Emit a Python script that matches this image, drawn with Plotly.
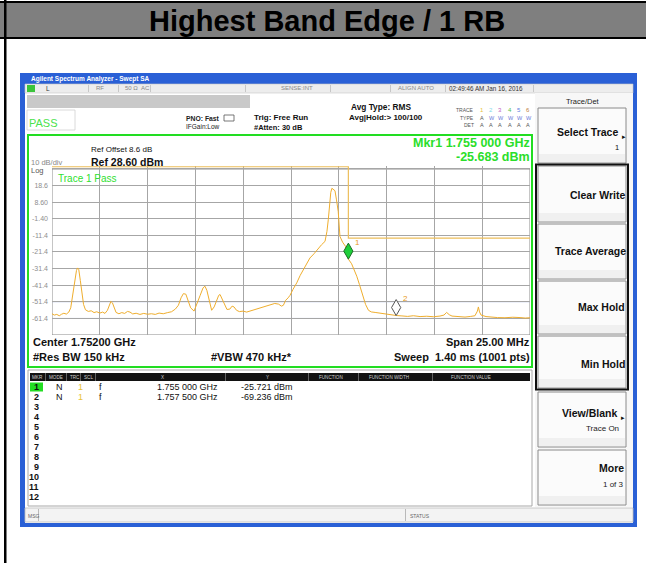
import numpy as np
import plotly.graph_objects as go

# ---------------- data ----------------
freq_mhz = [
    1739.50, 1739.62, 1739.75, 1739.88, 1740.00, 1740.12, 1740.25, 1740.38, 1740.48, 1740.58,
    1740.68, 1740.78, 1740.84, 1740.90, 1740.98, 1741.06, 1741.15, 1741.25, 1741.40, 1741.55,
    1741.70, 1741.84, 1742.00, 1742.15, 1742.27, 1742.40, 1742.50, 1742.58, 1742.66, 1742.75,
    1742.85, 1743.00, 1743.15, 1743.30, 1743.45, 1743.58, 1743.72, 1743.90, 1744.10, 1744.30,
    1744.50, 1744.70, 1744.90, 1745.10, 1745.32, 1745.55, 1745.75, 1745.95, 1746.11, 1746.25,
    1746.37, 1746.50, 1746.62, 1746.75, 1746.93, 1747.10, 1747.25, 1747.40, 1747.50, 1747.60,
    1747.72, 1747.85, 1747.98, 1748.10, 1748.22, 1748.29, 1748.40, 1748.50, 1748.65, 1748.80,
    1748.92, 1749.02, 1749.15, 1749.30, 1749.50, 1749.68, 1749.90, 1750.10, 1750.30, 1750.50,
    1750.73, 1750.95, 1751.15, 1751.35, 1751.50, 1751.60, 1751.72, 1751.85, 1751.95, 1752.10,
    1752.30, 1752.48, 1752.64, 1752.82, 1752.99, 1753.20, 1753.43, 1753.60, 1753.78, 1753.88,
    1753.95, 1754.02, 1754.08, 1754.14, 1754.22, 1754.30, 1754.38, 1754.47, 1754.56, 1754.70,
    1754.85, 1755.00, 1755.17, 1755.30, 1755.44, 1755.58, 1755.70, 1755.80, 1755.90, 1756.05,
    1756.20, 1756.40, 1756.66, 1756.90, 1757.15, 1757.35, 1757.53, 1757.80, 1758.10, 1758.40,
    1758.75, 1759.10, 1759.45, 1759.79, 1760.00, 1760.14, 1760.28, 1760.42, 1760.70, 1761.10,
    1761.40, 1761.62, 1761.75, 1761.80, 1761.86, 1761.94, 1762.20, 1762.41, 1762.80, 1763.19,
    1763.60, 1763.98, 1764.25, 1764.50,
]
level_dbm = [
    -58.6, -59.4, -59.0, -59.8, -58.9, -58.3, -58.8, -57.6, -55.0, -48.0,
    -39.0, -32.5, -31.0, -32.0, -38.5, -46.5, -53.0, -56.2, -57.2, -56.8,
    -57.9, -57.4, -58.2, -57.6, -58.4, -56.5, -53.5, -51.2, -52.0, -55.5,
    -57.8, -58.6, -57.9, -58.4, -57.2, -57.6, -58.7, -58.3, -59.0, -58.4,
    -58.9, -58.6, -59.0, -58.2, -58.6, -57.9, -57.4, -55.8, -53.5, -49.0,
    -46.5, -46.8, -50.5, -55.0, -57.0, -52.5, -47.5, -43.0, -42.0, -44.5,
    -50.0, -56.5, -54.5, -51.0, -47.5, -47.0, -49.5, -52.5, -56.0, -55.8,
    -54.0, -54.5, -56.5, -57.3, -57.0, -57.6, -56.8, -56.2, -55.6, -55.0,
    -54.0, -53.2, -52.4, -52.8, -54.0, -53.5, -50.5, -49.0, -47.5, -44.0,
    -40.0, -35.5, -32.0, -28.5, -25.0, -22.5, -19.0, -17.0, -15.0, -9.0,
    -2.0, 8.0, 14.5, 17.0, 16.0, 15.5, 10.0, 3.0, -12.0, -15.5,
    -18.0, -25.7, -28.5, -32.0, -36.0, -41.0, -46.0, -50.0, -53.0, -56.5,
    -57.5, -57.8, -58.3, -58.9, -59.2, -59.6, -59.7, -59.9, -60.2, -59.8,
    -60.3, -60.1, -60.4, -60.0, -59.4, -57.8, -59.2, -60.0, -60.4, -60.6,
    -60.2, -59.8, -57.0, -54.5, -57.5, -59.4, -60.3, -60.6, -60.9, -61.0,
    -60.7, -60.9, -61.2, -61.0,
]
limit_freq = [1739.5, 1755.0, 1755.0, 1764.5]
limit_dbm = [30.0, 30.0, -13.0, -13.0]

mkr_names = ["1", "2"]
mkr_freq = [1755.0, 1757.5]
mkr_x_text = ["1.755 000 GHz", "1.757 500 GHz"]
mkr_y_text = ["-25.721 dBm", "-69.236 dBm"]

ref_level = 28.6
db_per_div = 10
center_mhz = 1752.0
span_mhz = 25.0
ytick_vals = [28.6, 18.6, 8.6, -1.4, -11.4, -21.4, -31.4, -41.4, -51.4, -61.4, -71.4]
ytick_text = ["", "18.6", "8.60", "-1.40", "-11.4", "-21.4", "-31.4", "-41.4", "-51.4", "-61.4", ""]
display_lines_dbm = [-51.4, -61.4]

# ---------------- layout helpers ----------------
W, H = 646, 563
FONT = "Liberation Sans, Arial, sans-serif"
shapes, annots = [], []


def box(x0, y0, x1, y1, fill=None, line=None, lw=1, layer="below"):
    shapes.append(dict(type="rect", xref="paper", yref="paper",
                       x0=x0 / W, x1=x1 / W, y0=1 - y1 / H, y1=1 - y0 / H,
                       fillcolor=fill or "rgba(0,0,0,0)",
                       line=dict(color=line or "rgba(0,0,0,0)", width=lw if line else 0),
                       layer=layer))


def txt(x, y, s, size=8, color="#000", bold=False, anchor="left"):
    annots.append(dict(xref="paper", yref="paper", x=x / W, y=1 - y / H,
                       text=("<b>%s</b>" % s) if bold else s, showarrow=False,
                       xanchor=anchor, yanchor="middle", borderpad=0,
                       font=dict(size=size, color=color, family=FONT)))


# page header
box(0, 2, W, 38, "#7F7F7F")
box(0, 1, W, 3, "#000")
box(0, 37, W, 39, "#000")
box(4, 0, 6.5, H, "#000")
txt(327, 20.5, "Highest Band Edge / 1 RB", 29, "#000", True, "center")

# screenshot frame
box(20, 73, 637, 527, "#2A60D6")
box(25, 84, 633, 523, "#FFFFFF")
txt(30, 79, "Agilent Spectrum Analyzer - Swept SA", 6.5, "#FFFFFF", True)
# status row
box(25, 84, 633, 93, "#EDEDED", "#C8C8C8", 0.6)
box(27, 85, 35, 92, "#3BC43B")
for sx in [88, 118, 150, 245, 330, 390, 445, 533]:
    box(sx, 85, sx + 0.8, 92, "#BDBDBD")
txt(45, 88.5, "L", 6.5, "#333")
txt(95, 88.5, "RF", 6, "#888")
txt(124, 88.5, "50 Ω", 6, "#888")
txt(140, 88.5, "AC", 6, "#888")
txt(280, 88.5, "SENSE:INT", 6, "#888")
txt(397, 88.5, "ALIGN AUTO", 6, "#888")
txt(448, 88.5, "02:49:46 AM Jan 16, 2016", 6.3, "#333")
# settings area
box(27, 95, 250, 108, "#C9C9C9")
box(27, 110, 75, 130, "#FFFFFF", "#D0D0D0", 0.8)
txt(28, 123, "PASS", 11, "#4BE24B")
txt(221, 118, "PNO: Fast", 6.8, "#222", True, "right")
box(224, 115, 234, 121, None, "#555", 0.8)
txt(221, 127, "IFGain:Low", 6.5, "#222", False, "right")
txt(253, 117, "Trig: Free Run", 8, "#111", True)
txt(253, 127.5, "#Atten: 30 dB", 7.5, "#111", True)
txt(350, 107, "Avg Type: RMS", 8.3, "#111", True)
txt(348, 117, "Avg|Hold:> 100/100", 8, "#111", True)
txt(475, 110.5, "TRACE", 5, "#555", False, "right")
txt(475, 118, "TYPE", 5, "#555", False, "right")
txt(475, 125.5, "DET", 5, "#555", False, "right")
trace_cols = ["#E8C23A", "#7FD8E8", "#C060C0", "#50C050", "#6080E0", "#C08040"]
for i, c in enumerate(trace_cols):
    txt(479 + i * 9.2, 110.5, str(i + 1), 6, c)
    txt(479 + i * 9.2, 118, "A" if i == 0 else "W", 5.5, "#6A7ADA" if i else "#555")
    txt(479 + i * 9.2, 125.5, "A", 5.5, "#555")

# green measurement box
box(28, 135, 532, 367, None, "#22DD22", 2)
txt(90, 149, "Ref Offset 8.6 dB", 8, "#111")
txt(90, 162, "Ref 28.60 dBm", 10.5, "#111", True)
txt(30, 162, "10 dB/div", 7.5, "#8A8A8A")
txt(30, 170.5, "Log", 7.5, "#555")
txt(531, 143, "Mkr1 1.755 000 GHz", 12.5, "#2ADE2A", True, "right")
txt(531, 157.5, "-25.683 dBm", 12.5, "#2ADE2A", True, "right")
txt(57, 178, "Trace 1 Pass", 10, "#30E030")
txt(32, 342, "Center 1.75200 GHz", 11, "#111", True)
txt(531, 342, "Span 25.00 MHz", 11, "#111", True, "right")
txt(32, 357, "#Res BW 150 kHz", 11, "#111", True)
txt(210, 357, "#VBW 470 kHz*", 11, "#111", True)
txt(531, 357, "Sweep  1.40 ms (1001 pts)", 11, "#111", True, "right")

# marker table
box(28, 370, 532, 506, "#FFFFFF", "#A8A8A8", 1)
box(30, 373, 530, 381, "#121212")
for sx in [45, 66, 80, 95, 225, 308, 358, 432]:
    box(sx, 373, sx + 0.8, 381, "#777")
hdr = [(31, "MKR"), (48, "MODE"), (69, "TRC"), (83, "SCL"), (160, "X"), (265, "Y"),
       (318, "FUNCTION"), (368, "FUNCTION WIDTH"), (450, "FUNCTION VALUE")]
for hx, ht in hdr:
    txt(hx, 377, ht, 4.6, "#CFCFCF")
row_y0, row_dy = 387, 10.0
for r in range(12):
    ry = row_y0 + r * row_dy
    if r == 0:
        box(30, ry - 4.5, 43, ry + 4.5, "#22DD22")
    txt(40, ry, str(r + 1), 9, "#111", True, "right")
    if r < len(mkr_names):
        txt(55, ry, "N", 9, "#111")
        txt(77, ry, "1", 9, "#E8C23A")
        txt(98, ry, "f", 9, "#111")
        txt(219, ry, mkr_x_text[r], 9, "#111", False, "right")
        txt(294, ry, mkr_y_text[r], 9, "#111", False, "right")

# message bar
box(25, 508, 633, 522, "#F3F3F3", "#BDBDBD", 0.8)
box(38, 509, 38.8, 521, "#AAA")
box(405, 509, 405.8, 521, "#AAA")
txt(27, 515.5, "MSG", 5, "#666")
txt(409, 515.5, "STATUS", 5, "#666")

# soft-key panel
box(535, 93, 633, 507, "#F7F7F7")
txt(583, 102, "Trace/Det", 7.5, "#222", False, "center")
btns = [(108, 163), (166, 222), (224, 279), (281, 334), (336, 388), (392, 447), (450, 505)]
for (b0, b1) in btns:
    box(538, b0, 626, b1, "#FBFBFB", "#8A8A8A", 1)
    box(539, b1 - 9, 625, b1 - 1, "#F0F0F0")
box(536, 164.5, 628, 389.5, None, "#111", 2)
txt(619, 132, "Select Trace", 10.5, "#111", True, "right")
txt(621, 136, "▸", 7, "#111")
txt(620, 147, "1", 7.5, "#111", False, "right")
txt(626, 195, "Clear Write", 10.5, "#111", True, "right")
txt(627, 251, "Trace Average", 10.5, "#111", True, "right")
txt(626, 307, "Max Hold", 10.5, "#111", True, "right")
txt(626, 364, "Min Hold", 10.5, "#111", True, "right")
txt(618, 413, "View/Blank", 10.5, "#111", True, "right")
txt(620, 417, "▸", 7, "#111")
txt(620, 428, "Trace On", 8, "#222", False, "right")
txt(625, 468, "More", 10.5, "#111", True, "right")
txt(625, 484, "1 of 3", 8, "#222", False, "right")

# ---------------- spectrum plot ----------------
GX0, GX1 = 52, 530
G_TOP, G_BOT = 169, 335
y_lo, y_hi = ref_level - 10 * db_per_div, 30.3
px_per_db = (G_BOT - G_TOP) / (10 * db_per_div)
dom_top = G_TOP - (y_hi - ref_level) * px_per_db
f_lo, f_hi = center_mhz - span_mhz / 2, center_mhz + span_mhz / 2

for lv in display_lines_dbm:
    shapes.append(dict(type="line", xref="x", yref="y", x0=f_lo, x1=f_hi, y0=lv, y1=lv,
                       line=dict(color="#C3CBEC", width=1), layer="below"))

fig = go.Figure()
fig.add_trace(go.Scatter(x=limit_freq, y=limit_dbm, mode="lines",
                         line=dict(color="#EDBE5A", width=1.2), hoverinfo="skip"))
fig.add_trace(go.Scatter(x=freq_mhz, y=level_dbm, mode="lines",
                         line=dict(color="#EFAE2E", width=1.0), hoverinfo="skip"))

mkr_level = np.interp(mkr_freq, freq_mhz, level_dbm)
mkr_fill = ["#1FCF3A", "#FFFFFF"]
mkr_line = ["#1B6B25", "#555555"]
for i in range(len(mkr_freq)):
    shapes.append(dict(type="path", xref="x", yref="y", xsizemode="pixel", ysizemode="pixel",
                       xanchor=mkr_freq[i], yanchor=float(mkr_level[i]),
                       path="M 0 0 L 4.6 8 L 0 16 L -4.6 8 Z",
                       fillcolor=mkr_fill[i], line=dict(color=mkr_line[i], width=1), layer="above"))
    annots.append(dict(xref="x", yref="y", x=mkr_freq[i], y=float(mkr_level[i]), text=mkr_names[i],
                       showarrow=False, xshift=9, yshift=17, font=dict(size=8, color="#E89A20", family=FONT)))

# plot border
shapes.append(dict(type="rect", xref="x", yref="y", x0=f_lo, x1=f_hi, y0=y_lo, y1=ref_level,
                   line=dict(color="#8C8C8C", width=1), fillcolor="rgba(0,0,0,0)", layer="below"))

fig.update_layout(
    width=W, height=H, margin=dict(l=0, r=0, t=0, b=0),
    paper_bgcolor="#FFFFFF", plot_bgcolor="#FFFFFF", showlegend=False,
    shapes=shapes, annotations=annots,
    xaxis=dict(domain=[GX0 / W, GX1 / W], range=[f_lo, f_hi], tickmode="array",
               tickvals=[f_lo + 2.5 * k for k in range(11)], showticklabels=False,
               showgrid=True, gridcolor="#A6A6A6", gridwidth=1, zeroline=False, showline=False, ticks=""),
    yaxis=dict(domain=[1 - G_BOT / H, 1 - dom_top / H], range=[y_lo, y_hi], tickmode="array",
               tickvals=ytick_vals, ticktext=ytick_text, showgrid=True, gridcolor="#A6A6A6",
               gridwidth=1, zeroline=False, showline=False, ticks="",
               tickfont=dict(size=7, color="#8E8E8E", family=FONT), ticklabelstandoff=3),
)

fig.write_html("out.html", config={"displayModeBar": False},
               post_script="document.body.style.margin='0';document.body.style.overflow='hidden';")
